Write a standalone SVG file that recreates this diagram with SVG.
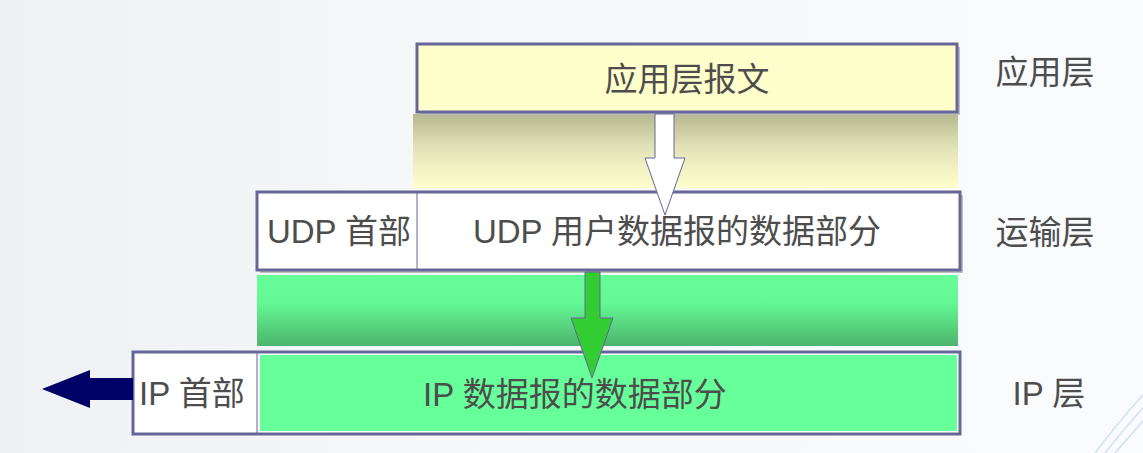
<svg xmlns="http://www.w3.org/2000/svg" width="1143" height="453" viewBox="0 0 1143 453">
<style>
.t{font-family:"Liberation Sans","Noto Sans CJK SC",sans-serif;font-size:33px;fill:#4d4d4d;text-anchor:middle;dominant-baseline:central}
.box{stroke:#666699;stroke-width:3}
.div{stroke:#666699;stroke-width:1}
</style>
<defs>
<linearGradient id="bg" x1="0" y1="0" x2="1" y2="0">
<stop offset="0" stop-color="#eef0f3"/><stop offset="0.35" stop-color="#f6f7f9"/><stop offset="1" stop-color="#fafbfc"/>
</linearGradient>
<linearGradient id="yel" x1="0" y1="0" x2="0" y2="1">
<stop offset="0" stop-color="#b8b890"/><stop offset="0.45" stop-color="#e2e2b8"/><stop offset="1" stop-color="#ffffcc"/>
</linearGradient>
<linearGradient id="grn" x1="0" y1="0" x2="0" y2="1">
<stop offset="0" stop-color="#66ff99"/><stop offset="0.4" stop-color="#64f794"/><stop offset="1" stop-color="#4cb56c"/>
</linearGradient>
</defs>
<rect width="1143" height="453" fill="url(#bg)"/>
<path d="M1095 453 Q1120 420 1143 395" fill="none" stroke="#cfe0f3" stroke-width="1.5"/>
<path d="M1105 453 Q1125 428 1143 408" fill="none" stroke="#cfe0f3" stroke-width="1.5"/>
<path d="M1115 453 Q1130 436 1143 421" fill="none" stroke="#cfe0f3" stroke-width="1.5"/>
<g id="bands">
<rect x="413" y="114" width="545" height="74" fill="url(#yel)"/>
<rect x="257" y="275" width="701" height="71" fill="url(#grn)"/>
</g>
<g id="app">
<rect x="420" y="47" width="540" height="68" fill="#bdbdbd"/>
<rect x="417" y="44" width="540" height="68" fill="#ffffcc" class="box"/>
<text class="t" x="687" y="79">应用层报文</text>
</g>
<g id="udp">
<rect x="260" y="195" width="703" height="78" fill="#bdbdbd"/>
<rect x="257" y="192" width="703" height="78" fill="#ffffff" class="box"/>
<line x1="417" y1="193" x2="417" y2="269" class="div"/>
<text class="t" x="339" y="231">UDP 首部</text>
<text class="t" x="677" y="231">UDP 用户数据报的数据部分</text>
</g>
<g id="ip">
<rect x="133" y="352" width="827" height="82" fill="#ffffff" class="box"/>
<rect x="260" y="355" width="697" height="76" fill="#66ff99"/>
<line x1="257" y1="353" x2="257" y2="433" class="div"/>
<text class="t" x="192" y="393">IP 首部</text>
<text class="t" x="575" y="394">IP 数据报的数据部分</text>
</g>
<g id="connectors">
<polygon points="655,114 674,114 674,158 685,158 665,215 645,158 655,158" fill="#ffffff" stroke="#666699" stroke-width="1"/>
<polygon points="585,272 600,272 600,318 613,318 592,378 571,318 585,318" fill="#33cc33" stroke="#666699" stroke-width="1"/>
<polygon points="133,378 90,378 90,370 42,389 90,408 90,400 133,400" fill="#000066"/>
</g>
<g id="labels">
<text class="t" x="1045" y="72">应用层</text>
<text class="t" x="1045" y="232">运输层</text>
<text class="t" x="1049" y="393">IP 层</text>
</g>
</svg>
